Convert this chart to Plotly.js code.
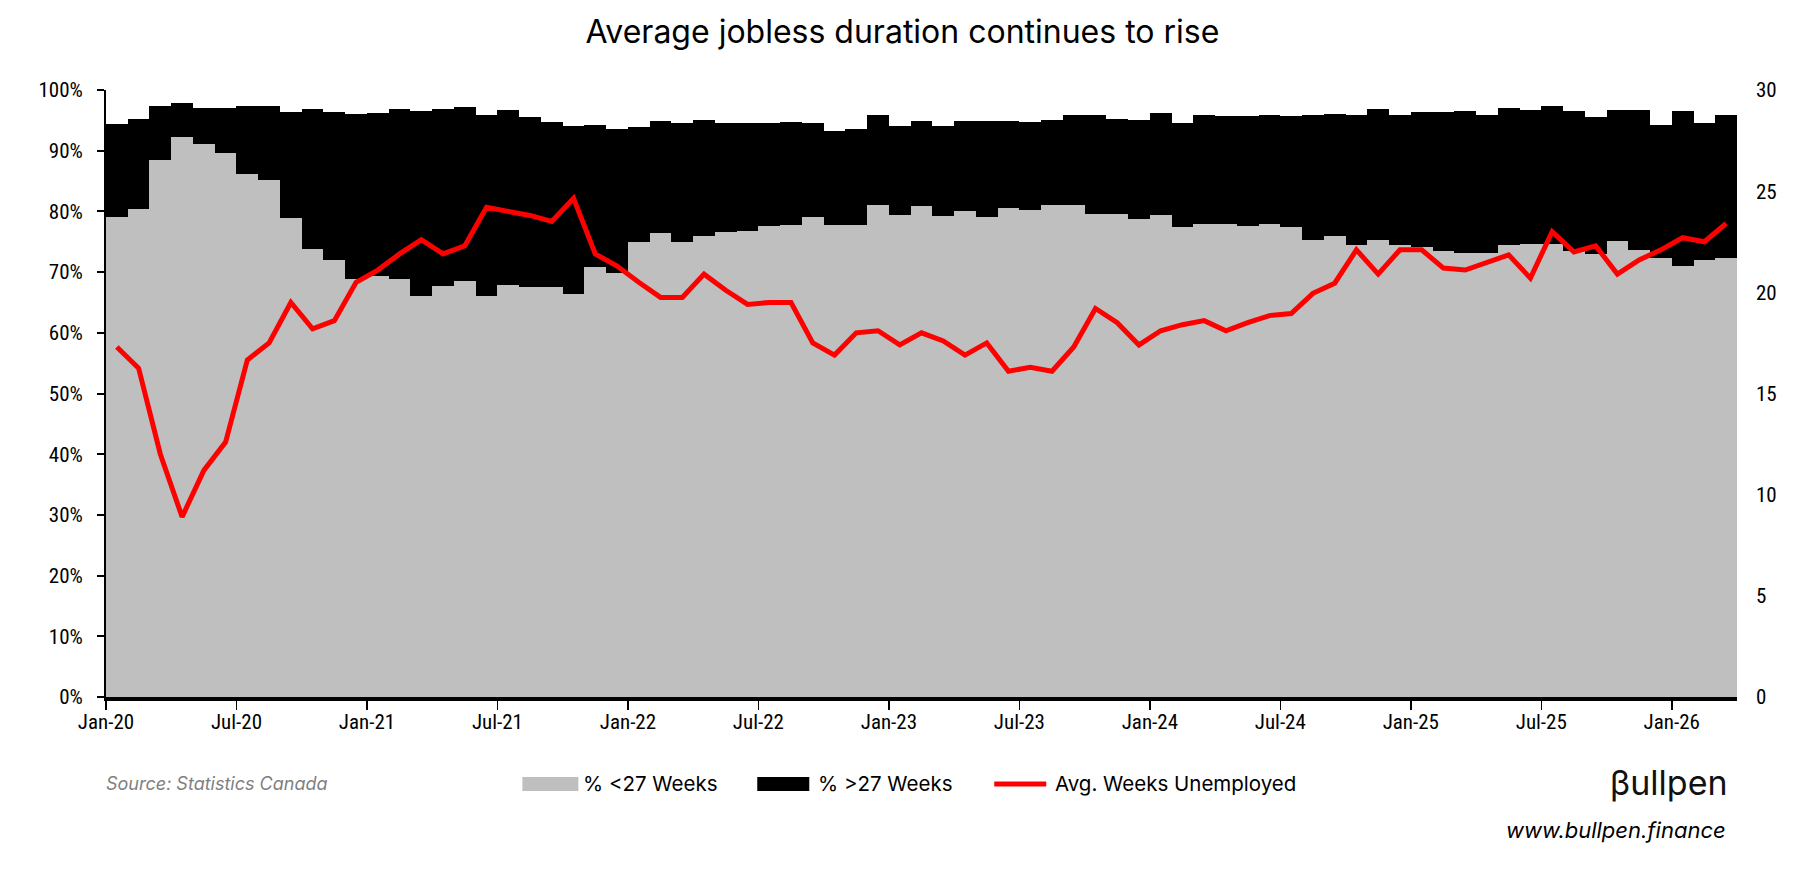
<!DOCTYPE html>
<html><head><meta charset="utf-8">
<script src="https://cdn.plot.ly/plotly-3.0.1.min.js"></script>
<style>html,body{margin:0;padding:0;background:#fff}#chart{width:1812px;height:870px}</style>
</head><body><div id="chart"></div>
<script>
// Categories: monthly, Jan-20 .. Mar-26
const monthAbbr = ["Jan","Feb","Mar","Apr","May","Jun","Jul","Aug","Sep","Oct","Nov","Dec"];
const months = [];
for (let y = 20; y <= 26; y++) {
  for (let m = 0; m < 12; m++) {
    if (y === 26 && m > 2) break;
    months.push(monthAbbr[m] + "-" + y);
  }
}

// % of unemployed for less than 27 weeks
const shortTermPct = [79.1,80.4,88.4,92.2,91.1,89.7,86.2,85.2,78.9,73.8,72.0,68.9,
  69.4,68.9,66.1,67.7,68.5,66.1,67.9,67.6,67.6,66.4,70.9,69.9,
  75.0,76.4,75.0,75.9,76.6,76.8,77.6,77.8,79.1,77.8,77.8,81.1,
  79.4,80.9,79.2,80.1,79.1,80.6,80.3,81.1,81.1,79.6,79.6,78.8,
  79.4,77.4,78.0,78.0,77.6,78.0,77.4,75.3,75.9,74.4,75.3,74.4,
  74.1,73.5,73.1,73.2,74.5,74.7,74.7,73.5,73.0,75.1,73.7,72.4,
  71.0,72.0,72.3];

// % of unemployed for more than 27 weeks
const longTermPct = [15.3,14.9,9.0,5.6,5.9,7.4,11.2,12.2,17.4,23.0,24.3,27.2,
  26.8,28.0,30.5,29.1,28.7,29.8,28.8,28.0,27.1,27.6,23.3,23.7,
  18.9,18.5,19.6,19.2,18.0,17.8,17.0,16.9,15.5,15.5,15.8,14.8,
  14.7,14.0,14.9,14.8,15.8,14.3,14.4,14.0,14.8,16.3,15.6,16.3,
  16.8,17.2,17.9,17.7,18.1,17.9,18.3,20.6,20.1,21.5,21.5,21.5,
  22.2,22.8,23.4,22.6,22.5,22.0,22.6,23.1,22.5,21.6,23.0,21.8,
  25.5,22.6,23.5];

// Average weeks unemployed (right axis)
const avgWeeks = [17.3,16.25,12.0,8.9,11.2,12.6,16.66,17.5,19.5,18.2,18.6,20.5,
  21.1,21.9,22.6,21.9,22.3,24.2,24.0,23.8,23.5,24.65,21.9,21.3,
  20.5,19.75,19.75,20.9,20.1,19.4,19.5,19.5,17.5,16.9,18.0,18.1,
  17.4,18.0,17.6,16.9,17.5,16.1,16.3,16.1,17.3,19.2,18.5,17.4,
  18.1,18.4,18.6,18.1,18.5,18.85,18.95,19.95,20.45,22.1,20.9,22.1,
  22.1,21.2,21.1,21.5,21.85,20.7,23.0,22.0,22.3,20.9,21.6,22.1,
  22.7,22.5,23.4];

const tickLabels = ["Jan-20","Jul-20","Jan-21","Jul-21","Jan-22","Jul-22","Jan-23",
  "Jul-23","Jan-24","Jul-24","Jan-25","Jul-25","Jan-26"];

const seriesNames = ["% <27 Weeks", "% >27 Weeks", "Avg. Weeks Unemployed"];

const xs = months.map((m, i) => i + 0.5);
const tickPos = tickLabels.map(l => months.indexOf(l));
const FONT = "Inter, Roboto, 'Liberation Sans', sans-serif";
const TICKFONT = "'Liberation Sans Narrow', 'Arial Narrow', 'Roboto Condensed', 'Liberation Sans', sans-serif";

const traces = [
  {type: "bar", name: seriesNames[0], x: xs, y: shortTermPct, width: 1,
   marker: {color: "#BFBFBF", line: {width: 0}}, showlegend: false, hoverinfo: "skip"},
  {type: "bar", name: seriesNames[1], x: xs, y: longTermPct, width: 1,
   marker: {color: "#000000", line: {width: 0}}, showlegend: false, hoverinfo: "skip"},
  {type: "scatter", mode: "lines", name: seriesNames[2], x: xs, y: avgWeeks, yaxis: "y2",
   line: {color: "#FF0000", width: 5}, showlegend: false, hoverinfo: "skip"}
];

// legend geometry (paper coords)
const ly = -0.1433;
const legendShapes = [
  {type: "rect", xref: "paper", yref: "paper", x0: 0.2553, x1: 0.2896, y0: -0.1549, y1: -0.1318,
   fillcolor: "#BFBFBF", line: {width: 0}},
  {type: "rect", xref: "paper", yref: "paper", x0: 0.3993, x1: 0.4312, y0: -0.1549, y1: -0.1318,
   fillcolor: "#000000", line: {width: 0}},
  {type: "line", xref: "paper", yref: "paper", x0: 0.5446, x1: 0.5765, y0: ly, y1: ly,
   line: {color: "#FF0000", width: 5}}
];
const ann = (text, x, y, xanchor, font) => ({text, x, y, xref: "paper", yref: "paper",
  xanchor, yanchor: "middle", showarrow: false, font});
const annotations = [
  ann(seriesNames[0], 0.2914, ly, "left", {family: FONT, size: 20.5, color: "#000"}),
  ann(seriesNames[1], 0.4355, ly, "left", {family: FONT, size: 20.5, color: "#000"}),
  ann(seriesNames[2], 0.5807, ly, "left", {family: FONT, size: 20.5, color: "#000"}),
  ann("<i>Source: Statistics Canada</i>", -0.001, ly, "left", {family: FONT, size: 18, color: "#7F7F7F"}),
  ann("βullpen", 0.9957, ly + 0.003, "right", {family: FONT, size: 34, color: "#111"}),
  ann("<i>www.bullpen.finance</i>", 0.9945, -0.2191, "right", {family: FONT, size: 22, color: "#000"})
];

const layout = {
  width: 1812, height: 870,
  margin: {l: 105.5, r: 75, t: 90, b: 173},
  paper_bgcolor: "#fff", plot_bgcolor: "#fff",
  barmode: "stack", bargap: 0,
  showlegend: false,
  font: {family: FONT, size: 19, color: "#000"},
  title: {text: "Average jobless duration continues to rise", xref: "container", x: 0.498,
          y: 0.964, yanchor: "middle", font: {family: FONT, size: 32, color: "#000"}},
  xaxis: {type: "linear", range: [0, months.length], tickmode: "array", tickvals: tickPos,
          ticktext: tickLabels, ticks: "outside", ticklen: 9, tickwidth: 1.5, tickcolor: "#000",
          showline: true, linecolor: "#000", linewidth: 3.5, showgrid: false, zeroline: false,
          ticklabelstandoff: -6,
          tickfont: {family: TICKFONT, size: 21}, fixedrange: true},
  yaxis: {range: [0, 100], dtick: 10, ticksuffix: "%", ticks: "outside", ticklen: 7, tickwidth: 2,
          tickcolor: "#000", showline: true, linecolor: "#000", linewidth: 2,
          showgrid: true, gridcolor: "#D0D0D0", gridwidth: 1.5, griddash: "dot", zeroline: false,
          ticklabelstandoff: 10,
          tickfont: {family: TICKFONT, size: 21}, fixedrange: true},
  yaxis2: {overlaying: "y", side: "right", range: [0, 30], dtick: 5, showgrid: false,
           showline: false, ticks: "", zeroline: false, ticklabelstandoff: 18,
           tickfont: {family: TICKFONT, size: 21}, fixedrange: true},
  shapes: legendShapes,
  annotations: annotations
};

Plotly.newPlot("chart", traces, layout, {displayModeBar: false, staticPlot: true});
</script>
</body></html>
